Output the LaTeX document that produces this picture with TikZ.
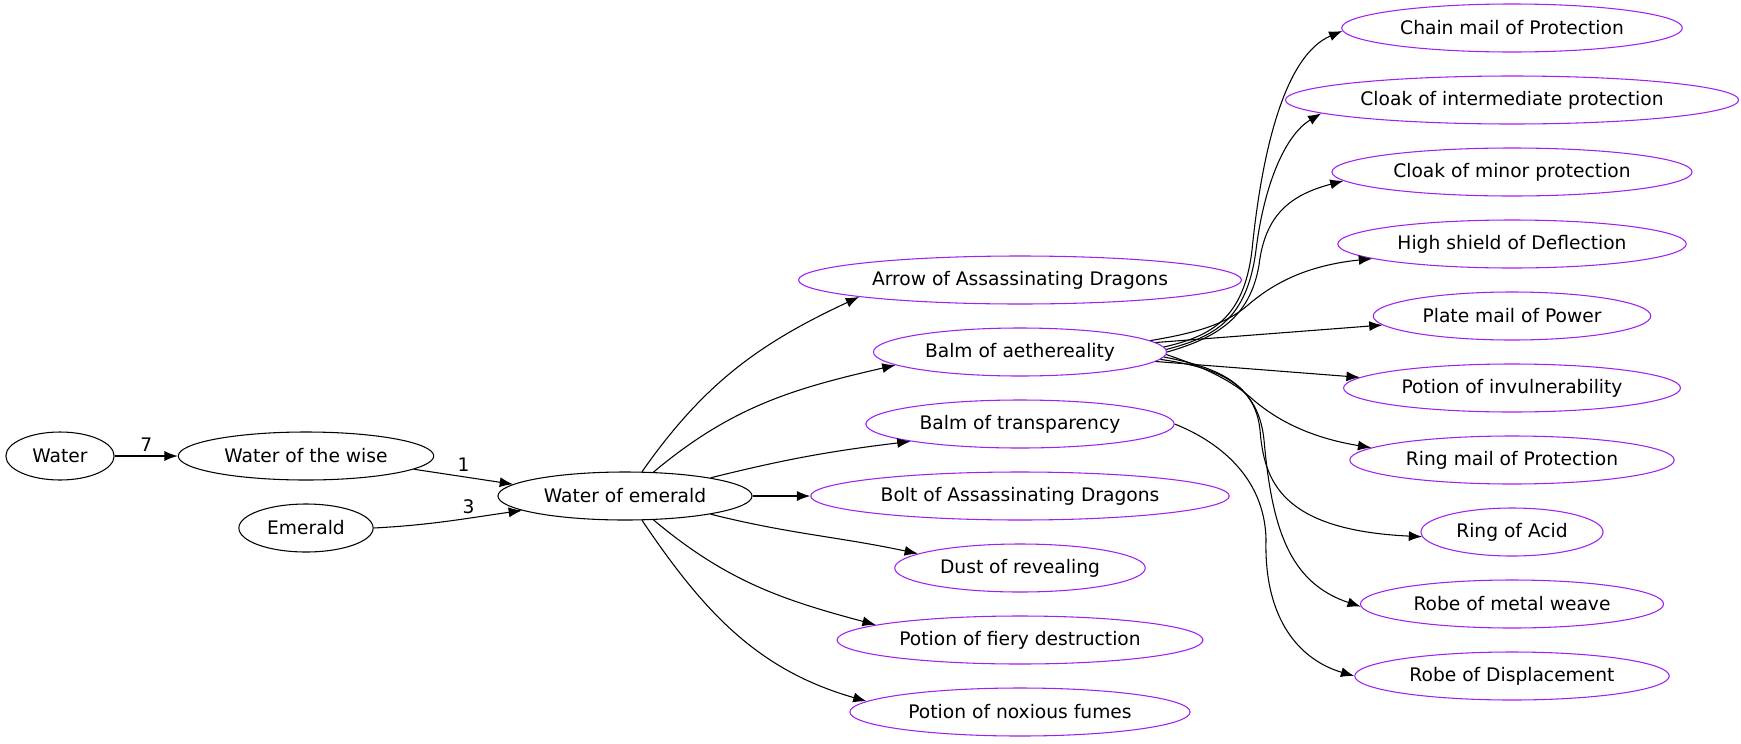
\documentclass[tikz,border=0pt]{standalone}
\usepackage{fontspec}
\setmainfont{DejaVu Sans}
\usepackage{xcolor}
\usetikzlibrary{shapes.geometric,arrows.meta}
\definecolor{product}{HTML}{A020F0}
\tikzstyle{ingredient}=[ellipse, draw, line width=0.8pt, minimum height=36pt, inner xsep=6.5pt]
\tikzstyle{product}=[ingredient, draw=product]
\tikzstyle{link}=[-{Latex[length=10pt,width=7.5pt]}, line width=0.8pt]

\begin{document}
\begin{tikzpicture}[x=0.75pt,y=0.75pt,font=\fontsize{14}{17}\selectfont]
  \useasboundingbox (0,0) rectangle (1741,-743);
  %% ingredients
  \draw (60,-456) node[ingredient,inner xsep=8pt] (water) {Water};
  \draw (306,-456) node[ingredient] (wise) {Water of the wise};
  \draw (306,-528) node[ingredient] (emerald) {Emerald};
  \draw (625,-496) node[ingredient] (emer) {Water of emerald};

  %% first products
  \draw (1020,-280) node[product] (arrow) {Arrow of Assassinating Dragons};
  \draw (1020,-352) node[product] (aeth) {Balm of aethereality};
  \draw (1020,-424) node[product] (transp) {Balm of transparency};
  \draw (1020,-496) node[product] (bolt) {Bolt of Assassinating Dragons};
  \draw (1020,-568) node[product] (dust) {Dust of revealing};
  \draw (1020,-640) node[product] (fiery) {Potion of fiery destruction};
  \draw (1020,-712) node[product] (noxious) {Potion of noxious fumes};

  %% second products
  \draw (1512,-28) node[product] (chain) {Chain mail of Protection};
  \draw (1512,-100) node[product] (cloakint) {Cloak of intermediate protection};
  \draw (1512,-172) node[product] (cloakmin) {Cloak of minor protection};
  \draw (1512,-244) node[product] (shield) {High shield of Deflection};
  \draw (1512,-316) node[product] (plate) {Plate mail of Power};
  \draw (1512,-388) node[product] (invul) {Potion of invulnerability};
  \draw (1512,-460) node[product] (ringmail) {Ring mail of Protection};
  \draw (1512,-532) node[product] (acid) {Ring of Acid};
  \draw (1512,-604) node[product] (weave) {Robe of metal weave};
  \draw (1512,-676) node[product] (displ) {Robe of Displacement};

  \draw[link] (water) -- node[above] {7} (wise);
  \draw[link] (wise.353) -- node[above] {1} (emer.174);
  \draw[link] (emerald.east) to[out=3,in=188] node[pos=.65,above] {3} (emer.188);

  \draw[link] (emer.55) to[out=55,in=205] (arrow.186);
  \draw[link] (emer.40) to[out=40,in=193] (aeth.186);
  \draw[link] (emer.12) to[out=14,in=187] (transp.189);
  \draw[link] (emer) -- (bolt);
  \draw[link] (emer.348) to[out=-14,in=168] (dust.172);
  \draw[link] (emer.320) to[out=-40,in=165] (fiery.174);
  \draw[link] (emer.305) to[out=-56,in=164] (noxious.176);

  %% fan out of the balm
  \draw[link] (aeth.2) .. controls (1212,-336) and (1244,-318) .. (1252,-250) .. controls (1262,-150) and (1285,-55) .. (chain.181);
  \draw[link] (aeth.1) .. controls (1214,-337) and (1247,-320) .. (1256,-250) .. controls (1264,-185) and (1285,-135) .. (cloakint.184);
  \draw[link] (aeth.0) .. controls (1216,-338) and (1250,-318) .. (1259,-265) .. controls (1265,-215) and (1290,-195) .. (cloakmin.183);
  \draw[link] (aeth.5) .. controls (1195,-333) and (1225,-325) .. (1248,-305) .. controls (1268,-288) and (1300,-266) .. (shield.186);
  \draw[link] (aeth.4) -- (plate.184);
  \draw[link] (aeth.356) -- (invul.176);
  \draw[link] (aeth.359) .. controls (1200,-366) and (1228,-378) .. (1250,-397) .. controls (1268,-413) and (1300,-436) .. (ringmail.175);
  \draw[link] (aeth.358) .. controls (1210,-366) and (1255,-380) .. (1260,-430) .. controls (1264,-480) and (1280,-530) .. (acid.183);
  \draw[link] (aeth.357) .. controls (1212,-367) and (1258,-380) .. (1264,-440) .. controls (1272,-530) and (1290,-583) .. (weave.181);
  \draw[link] (transp.east) .. controls (1215,-440) and (1265,-475) .. (1266,-540) .. controls (1264,-620) and (1300,-660) .. (displ.west);
\end{tikzpicture}
\end{document}
